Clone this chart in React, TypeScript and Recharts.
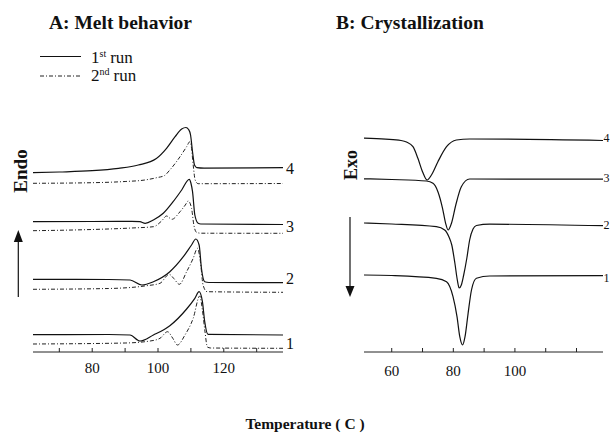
import { LineChart, Line, XAxis, YAxis } from "recharts";

// A: melt curves, heating. t = temperature (C), v = heat flow (arb. units, curves stacked)
const melt1st4 = [
  { t: 62, v: 187.3 }, { t: 70, v: 188 }, { t: 80, v: 189.3 }, { t: 88, v: 191.7 },
  { t: 94, v: 195 }, { t: 99.5, v: 201.5 }, { t: 102.6, v: 211.7 }, { t: 105.2, v: 223.3 },
  { t: 107.2, v: 231 }, { t: 108.5, v: 232.5 }, { t: 109.3, v: 230.5 }, { t: 109.9, v: 225 },
  { t: 110.5, v: 208 }, { t: 111.1, v: 195 }, { t: 111.8, v: 192.3 }, { t: 114, v: 191.8 },
  { t: 138, v: 192.3 },
];
const melt2nd4 = [
  { t: 62, v: 176.7 }, { t: 80, v: 177.3 }, { t: 90, v: 178.5 }, { t: 96, v: 180 },
  { t: 99.6, v: 182.3 }, { t: 102, v: 184.5 }, { t: 103.6, v: 190 }, { t: 106.7, v: 203.3 },
  { t: 108.7, v: 213.3 }, { t: 109.7, v: 218.3 }, { t: 110.1, v: 214 }, { t: 110.7, v: 195 },
  { t: 111.3, v: 180 }, { t: 112.2, v: 176.3 }, { t: 138, v: 176.5 },
];
const melt1st3 = [
  { t: 62, v: 138.3 }, { t: 80, v: 138.5 }, { t: 92, v: 138.7 }, { t: 94.5, v: 138.3 },
  { t: 96.1, v: 136.7 }, { t: 98.6, v: 140 }, { t: 101.6, v: 146.7 }, { t: 104.6, v: 158.3 },
  { t: 107.2, v: 170 }, { t: 109.5, v: 180.7 }, { t: 110, v: 177 }, { t: 110.5, v: 168.3 },
  { t: 111.2, v: 145 }, { t: 112.2, v: 136.7 }, { t: 113, v: 136 }, { t: 138, v: 135.5 },
];
const melt2nd3 = [
  { t: 62, v: 129.3 }, { t: 80, v: 130.5 }, { t: 92, v: 132 }, { t: 98.6, v: 133.3 },
  { t: 101.1, v: 139 }, { t: 102.6, v: 144 }, { t: 104.2, v: 140.7 }, { t: 106.7, v: 148.3 },
  { t: 108.3, v: 155 }, { t: 109.2, v: 159 }, { t: 110.2, v: 151.7 }, { t: 110.9, v: 135 },
  { t: 111.7, v: 127.7 }, { t: 113, v: 126.8 }, { t: 138, v: 126.7 },
];
const melt1st2 = [
  { t: 62, v: 80.7 }, { t: 85, v: 80.5 }, { t: 91.5, v: 80 }, { t: 95.1, v: 75 },
  { t: 98.6, v: 78.3 }, { t: 103.6, v: 88.3 }, { t: 107.7, v: 103.3 }, { t: 110.2, v: 115 },
  { t: 111.5, v: 121 }, { t: 112.5, v: 115 }, { t: 113.2, v: 91.7 }, { t: 114.2, v: 78.3 },
  { t: 115.5, v: 77.5 }, { t: 138, v: 77.3 },
];
const melt2nd2 = [
  { t: 62, v: 70.7 }, { t: 85, v: 71.5 }, { t: 96.6, v: 74.3 }, { t: 100.6, v: 76.7 },
  { t: 103.4, v: 85.7 }, { t: 104.8, v: 81.5 }, { t: 106.5, v: 75.7 }, { t: 108.7, v: 88.3 },
  { t: 110.7, v: 101.7 }, { t: 112, v: 111.7 }, { t: 112.9, v: 98.3 }, { t: 113.7, v: 75 },
  { t: 114.9, v: 68.3 }, { t: 138, v: 67.7 },
];
const melt1st1 = [
  { t: 62, v: 25.3 }, { t: 85, v: 25.5 }, { t: 91.5, v: 25 }, { t: 94.5, v: 19 },
  { t: 98.6, v: 25 }, { t: 103.6, v: 34.3 }, { t: 108.7, v: 51 }, { t: 111.2, v: 61.7 },
  { t: 112.5, v: 68.3 }, { t: 113.5, v: 58.3 }, { t: 114.2, v: 38.3 }, { t: 115.2, v: 25.7 },
  { t: 138, v: 25 },
];
const melt2nd1 = [
  { t: 62, v: 16 }, { t: 90, v: 17 }, { t: 97.6, v: 19 }, { t: 100.6, v: 21.7 },
  { t: 102.9, v: 28.3 }, { t: 104.5, v: 21.7 }, { t: 105.9, v: 15 }, { t: 108.2, v: 25 },
  { t: 110.7, v: 41.7 }, { t: 112.7, v: 64 }, { t: 113.5, v: 50 }, { t: 114.3, v: 28 },
  { t: 115, v: 13 }, { t: 116, v: 12 }, { t: 138, v: 11.7 },
];

// B: crystallization curves, cooling
const cryst4 = [
  { t: 51, v: 221.8 }, { t: 58, v: 220.8 }, { t: 63, v: 219.5 }, { t: 64.8, v: 218 },
  { t: 66.9, v: 213.3 }, { t: 68.5, v: 201.7 }, { t: 70, v: 188.3 }, { t: 71.5, v: 180 },
  { t: 72.9, v: 185 }, { t: 75, v: 198.3 }, { t: 77.8, v: 213.3 }, { t: 81, v: 220 },
  { t: 85.3, v: 221 }, { t: 128.6, v: 219.5 },
];
const cryst3 = [
  { t: 51, v: 181.2 }, { t: 60, v: 180.5 }, { t: 71.3, v: 179 }, { t: 73.4, v: 176.7 },
  { t: 75, v: 168.3 }, { t: 76.5, v: 151.7 }, { t: 77.5, v: 136.7 }, { t: 78.3, v: 130 },
  { t: 79.4, v: 136.7 }, { t: 80.8, v: 155 }, { t: 82.6, v: 173.3 }, { t: 85.3, v: 181 },
  { t: 128.6, v: 180.8 },
];
const cryst2 = [
  { t: 51, v: 137 }, { t: 60, v: 136 }, { t: 74.5, v: 133.3 }, { t: 77.2, v: 130 },
  { t: 78.6, v: 123 }, { t: 79.5, v: 115 }, { t: 80.5, v: 97 }, { t: 81.3, v: 80 },
  { t: 81.9, v: 72 }, { t: 82.6, v: 75 }, { t: 83.3, v: 84 }, { t: 84.4, v: 102 },
  { t: 85.3, v: 120 }, { t: 86.4, v: 131 }, { t: 87.5, v: 134.5 }, { t: 91.8, v: 135.8 },
  { t: 128.6, v: 134.3 },
];
const cryst1 = [
  { t: 51, v: 85 }, { t: 60, v: 84.5 }, { t: 74.5, v: 81.7 }, { t: 77.8, v: 78.3 },
  { t: 79.9, v: 63.3 }, { t: 81.2, v: 43.3 }, { t: 82.1, v: 23.3 }, { t: 83, v: 15 },
  { t: 83.8, v: 23.3 }, { t: 84.8, v: 46.7 }, { t: 85.9, v: 70 }, { t: 87.5, v: 81.7 },
  { t: 91.8, v: 84 }, { t: 128.6, v: 84.3 },
];

const meltTicks = [70, 80, 90, 100, 110, 120, 130];
const meltLabels = [80, 100, 120];
const crystTicks = [60, 70, 80, 90, 100, 110, 120];
const crystLabels = [60, 80, 100];
const runNumbers = ["4", "3", "2", "1"];

const serif = '"Liberation Serif", "Times New Roman", serif';
const dashDot = "4 2 1 2";

const makeTick = (labels: number[], dy: number) => (props: any) => {
  const { x, y, payload } = props;
  return (
    <g>
      <line x1={x} x2={x} y1={y} y2={y - 4} stroke="#222" />
      {labels.includes(payload.value) && (
        <text x={x} y={y + dy} textAnchor="middle" fontSize={15} fontFamily={serif} fill="#111">
          {payload.value}
        </text>
      )}
    </g>
  );
};

const solid = (data: any[], key: string) => (
  <Line key={key} data={data} dataKey="v" type="monotone" stroke="#111" strokeWidth={1.2}
    dot={false} isAnimationActive={false} />
);
const dashed = (data: any[], key: string) => (
  <Line key={key} data={data} dataKey="v" type="monotone" stroke="#222" strokeWidth={1}
    strokeDasharray={dashDot} dot={false} isAnimationActive={false} />
);

export default function App() {
  return (
    <div style={{ position: "absolute", left: 0, top: 0, width: 610, height: 435, background: "#fff" }}>
      {/* A: melt behavior */}
      <div style={{ position: "absolute", left: 0, top: 100 }}>
        <LineChart width={310} height={290} margin={{ top: 10, right: 27, bottom: 8, left: 33 }}>
          <XAxis dataKey="t" type="number" domain={[62, 138]} ticks={meltTicks} interval={0}
            allowDataOverflow height={30} tickSize={0} tickMargin={0}
            axisLine={{ stroke: "#222" }} tickLine={false} tick={makeTick(meltLabels, 21)} />
          <YAxis type="number" domain={[8, 250]} hide />
          {solid(melt1st4, "a4")}
          {dashed(melt2nd4, "b4")}
          {solid(melt1st3, "a3")}
          {dashed(melt2nd3, "b3")}
          {solid(melt1st2, "a2")}
          {dashed(melt2nd2, "b2")}
          {solid(melt1st1, "a1")}
          {dashed(melt2nd1, "b1")}
        </LineChart>
      </div>

      {/* B: crystallization */}
      <div style={{ position: "absolute", left: 330, top: 100 }}>
        <LineChart width={280} height={290} margin={{ top: 10, right: 7, bottom: 8, left: 34 }}>
          <XAxis dataKey="t" type="number" domain={[51, 128.6]} ticks={crystTicks} interval={0}
            allowDataOverflow height={30} tickSize={0} tickMargin={0}
            axisLine={{ stroke: "#222" }} tickLine={false} tick={makeTick(crystLabels, 24)} />
          <YAxis type="number" domain={[8, 250]} hide />
          {solid(cryst4, "c4")}
          {solid(cryst3, "c3")}
          {solid(cryst2, "c2")}
          {solid(cryst1, "c1")}
        </LineChart>
      </div>

      <svg width={610} height={435} style={{ position: "absolute", left: 0, top: 0, pointerEvents: "none" }}
        fontFamily={serif} fill="#111">
        <text x={49} y={29} fontSize={19.5} fontWeight="bold">A: Melt behavior</text>
        <text x={336} y={29} fontSize={19.5} fontWeight="bold">B: Crystallization</text>

        <line x1={40} x2={81} y1={56.5} y2={56.5} stroke="#111" strokeWidth={1} />
        <text x={91} y={63} fontSize={17}>
          1<tspan dy={-6} fontSize={10}>st</tspan><tspan dy={6} dx={4} fontSize={17}>run</tspan>
        </text>
        <line x1={40} x2={81} y1={76} y2={76} stroke="#222" strokeWidth={1} strokeDasharray={dashDot} />
        <text x={91} y={81} fontSize={17}>
          2<tspan dy={-6} fontSize={10}>nd</tspan><tspan dy={6} dx={4} fontSize={17}>run</tspan>
        </text>

        <text transform="translate(20,171) rotate(-90)" textAnchor="middle" dominantBaseline="central"
          fontSize={19} fontWeight="bold">Endo</text>
        <line x1={18.3} x2={18.3} y1={297} y2={240} stroke="#111" strokeWidth={1.2} />
        <polygon points="18.3,230 13.8,242 22.8,242" fill="#111" />

        <text transform="translate(350.5,165) rotate(-90)" textAnchor="middle" dominantBaseline="central"
          fontSize={18} fontWeight="bold">Exo</text>
        <line x1={350} x2={350} y1={217} y2={287} stroke="#111" strokeWidth={1.2} />
        <polygon points="350,297 345.5,286 354.5,286" fill="#111" />

        {runNumbers.map((n, i) => (
          <text key={"a" + n} x={286} y={[168, 226, 278, 343][i]} fontSize={16} dominantBaseline="central">{n}</text>
        ))}
        {runNumbers.map((n, i) => (
          <text key={"b" + n} x={603.5} y={[138, 178, 225, 278][i]} fontSize={12} dominantBaseline="central">{n}</text>
        ))}

        <text x={305} y={429} textAnchor="middle" fontSize={15.5} fontWeight="bold">Temperature ( C )</text>
      </svg>
    </div>
  );
}
